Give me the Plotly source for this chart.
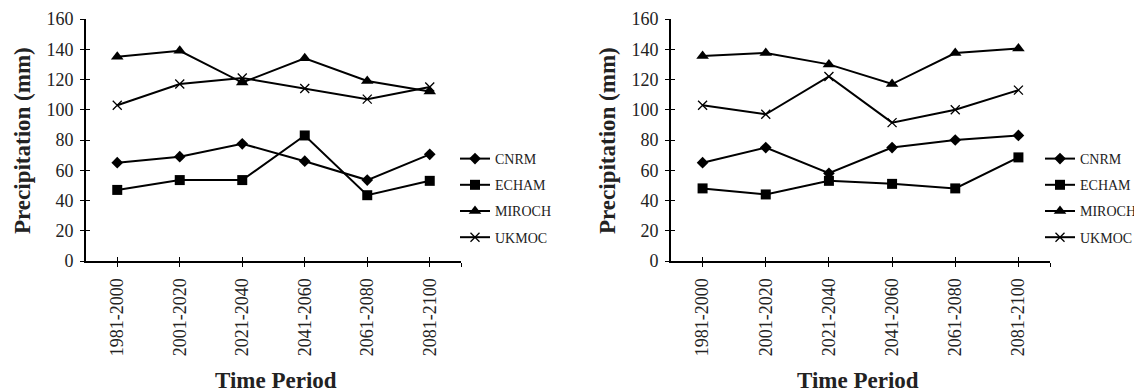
import plotly.graph_objects as go

periods = ["1981-2000", "2001-2020", "2021-2040", "2041-2060", "2061-2080", "2081-2100"]

# Left panel
left_cnrm = [65, 69, 77.5, 66, 53.5, 70.5]
left_echam = [47, 53.5, 53.5, 83, 43.5, 53]
left_miroch = [135, 139, 118, 134, 119, 112]
left_ukmoc = [103, 117, 121, 114, 107, 115]

# Right panel
right_cnrm = [65, 75, 58, 75, 80, 83]
right_echam = [48, 44, 53, 51, 48, 68.5]
right_miroch = [135.5, 137.5, 130, 117, 137.5, 140.5]
right_ukmoc = [103, 97, 122, 91.5, 100, 113]

series_names = ["CNRM", "ECHAM", "MIROCH", "UKMOC"]
symbols = ["diamond", "square", "triangle-up", "x-thin"]
sizes = [9, 10, 11, 9]

FONT = "Liberation Serif"
W, H = 1142, 391
OFF = 8  # page offset of the figure (body margin)

xpos = list(range(len(periods)))

fig = go.Figure()

panels = [
    ([left_cnrm, left_echam, left_miroch, left_ukmoc], "x", "y", "legend"),
    ([right_cnrm, right_echam, right_miroch, right_ukmoc], "x2", "y2", "legend2"),
]

for data, xa, ya, lg in panels:
    for name, vals, sym, sz in zip(series_names, data, symbols, sizes):
        fig.add_trace(go.Scatter(
            x=xpos, y=vals, name=name, mode="lines+markers",
            xaxis=xa, yaxis=ya, legend=lg, legendgroup=lg + name,
            line=dict(color="black", width=2),
            marker=dict(symbol=sym, size=sz, color="black",
                        line=dict(color="black", width=1.3 if sym == "x-thin" else 0)),
        ))

# empty traces to register overlay axes (for inward half of crossing ticks)
for xa, ya in [("x3", "y3"), ("x4", "y4")]:
    fig.add_trace(go.Scatter(x=[], y=[], xaxis=xa, yaxis=ya, showlegend=False,
                             hoverinfo="skip"))

def px_x(p):
    return (p - OFF) / W

def px_y(p):
    return 1 - (p - OFF) / H

xdom1 = [px_x(86), px_x(461)]
xdom2 = [px_x(671), px_x(1050)]
ydom = [px_y(261), px_y(19)]

TICKFONT = dict(family=FONT, size=18, color="#222")

base = dict(showgrid=False, zeroline=False, tickwidth=1, tickcolor="black", ticklen=4)

xtickvals = xpos + [len(periods) - 0.5]
xticktext = periods + [""]

def xmain(dom, anchor):
    return dict(domain=dom, anchor=anchor, type="linear", range=[-0.5, len(periods) - 0.5],
                tickmode="array", tickvals=xtickvals, ticktext=xticktext, tickangle=-90,
                showline=True, linecolor="black", linewidth=2, ticks="outside",
                tickfont=TICKFONT, ticklabelstandoff=4, **base)

def ymain(dom, anchor):
    return dict(domain=dom, anchor=anchor, range=[0, 160], dtick=20,
                showline=True, linecolor="black", linewidth=2, ticks="outside",
                tickfont=TICKFONT, ticklabelstandoff=3, **base)

def xover(dom, anchor, over):
    return dict(domain=dom, anchor=anchor, overlaying=over, type="linear",
                range=[-0.5, len(periods) - 0.5], tickmode="array", tickvals=xtickvals,
                ticks="inside", showticklabels=False, showline=False, **base)

def yover(dom, anchor, over):
    return dict(domain=dom, anchor=anchor, overlaying=over, range=[0, 160], dtick=20,
                ticks="inside", showticklabels=False, showline=False, **base)

legend_common = dict(
    xanchor="left", yanchor="top",
    font=dict(family=FONT, size=14, color="#222"),
    tracegroupgap=5, itemwidth=30, bgcolor="rgba(0,0,0,0)",
)

TITLEFONT = dict(family=FONT, size=23, color="#222")

def ann(text, x, y, angle=0):
    return dict(text=text, x=px_x(x), y=px_y(y), xref="paper", yref="paper",
                xanchor="center", yanchor="middle", textangle=angle,
                showarrow=False, font=TITLEFONT)

fig.update_layout(
    width=W, height=H,
    margin=dict(l=0, r=0, t=0, b=0, autoexpand=False),
    paper_bgcolor="white", plot_bgcolor="white",
    font=dict(family=FONT, color="#222"),
    xaxis=xmain(xdom1, "y"),
    yaxis=ymain(ydom, "x"),
    xaxis2=xmain(xdom2, "y2"),
    yaxis2=ymain(ydom, "x2"),
    xaxis3=xover(xdom1, "y3", "x"),
    yaxis3=yover(ydom, "x3", "y"),
    xaxis4=xover(xdom2, "y4", "x2"),
    yaxis4=yover(ydom, "x4", "y2"),
    legend=dict(x=px_x(455), y=px_y(143), **legend_common),
    legend2=dict(x=px_x(1040), y=px_y(143), **legend_common),
    annotations=[
        ann("<b>Precipitation (mm)</b>", 22, 141, -90),
        ann("<b>Precipitation (mm)</b>", 607, 141, -90),
        ann("<b>Time Period</b>", 276, 380),
        ann("<b>Time Period</b>", 858, 380),
    ],
    showlegend=True,
)

fig.write_html("out.html")
